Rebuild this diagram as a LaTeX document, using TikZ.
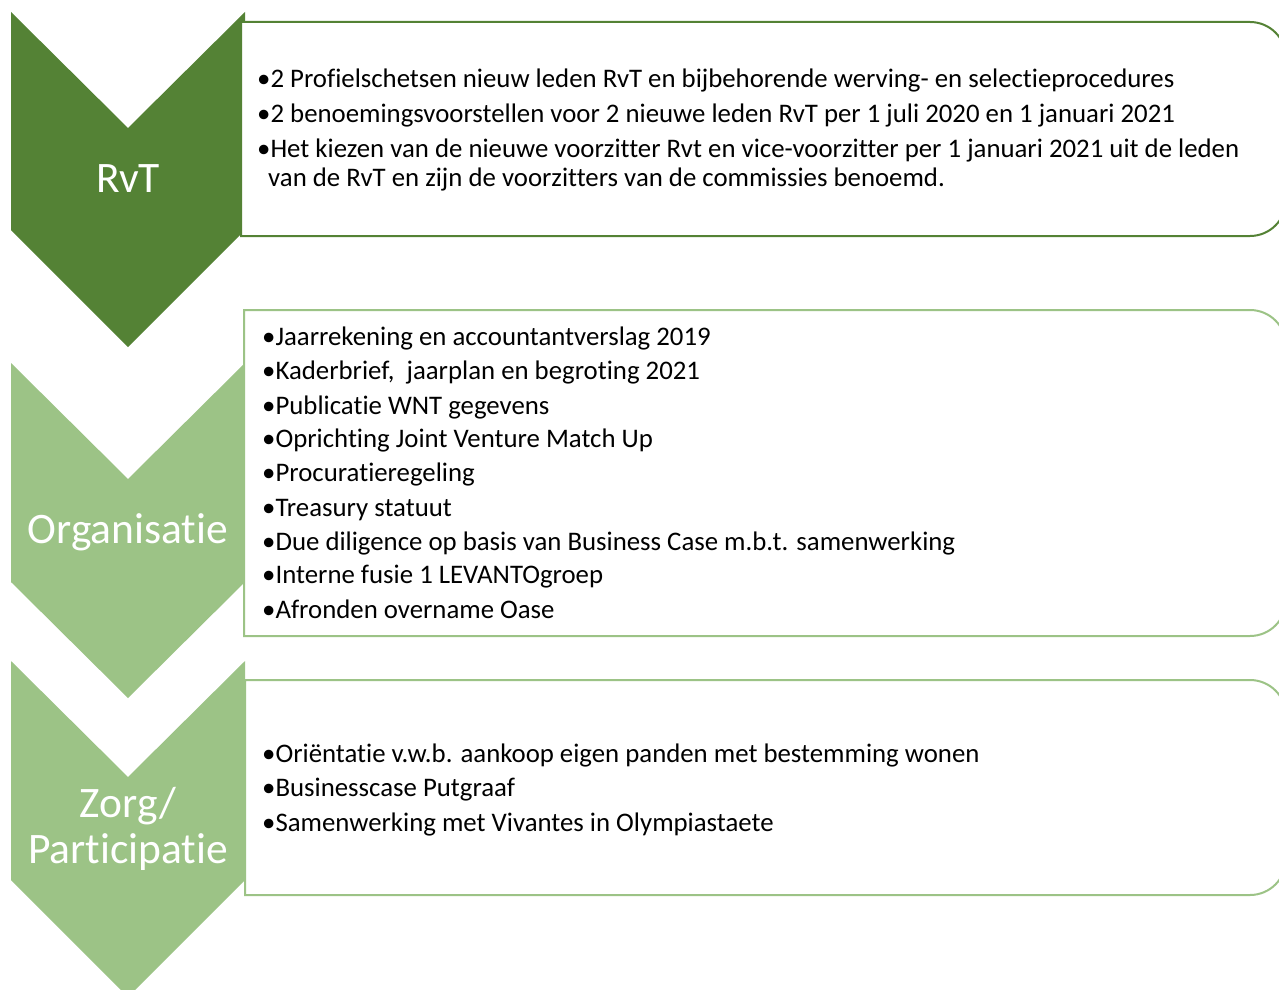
\documentclass[tikz,border=0pt]{standalone}
\usepackage{fontspec}
\setmainfont{Carlito}[Ligatures=NoCommon]
\definecolor{dkgreen}{HTML}{548235}
\definecolor{ltgreen}{HTML}{9CC386}
\begin{document}
\begin{tikzpicture}[x=1pt,y=-1pt,
  boxline/.style={line width=2pt,fill=white},
  lbl/.style={text=white,font=\fontsize{43.5}{50}\selectfont,align=center,inner sep=0pt},
  itm/.style={anchor=base west,inner sep=0pt,font=\fontsize{26.8}{32}\selectfont}]
\useasboundingbox (0,0) rectangle (1279,990);
\clip (0,0) rectangle (1279,990);
% chevrons
\fill[ltgreen] (11,661) -- (128,777) -- (245,661) -- (245,880) -- (128,997) -- (11,880) -- cycle;
\fill[ltgreen] (11,363) -- (128,479) -- (245,363) -- (245,582) -- (128,698) -- (11,582) -- cycle;
\fill[dkgreen] (11,12) -- (128,128) -- (245,12) -- (245,230) -- (128,347) -- (11,230) -- cycle;
% boxes
\draw[boxline,draw=dkgreen] (241,22) -- (1250,22) arc[start angle=-90,end angle=0,radius=36] -- (1286,200) arc[start angle=0,end angle=90,radius=36] -- (241,236) -- cycle;
\draw[boxline,draw=ltgreen] (244,310) -- (1250,310) arc[start angle=-90,end angle=0,radius=36] -- (1286,600) arc[start angle=0,end angle=90,radius=36] -- (244,636) -- cycle;
\draw[boxline,draw=ltgreen] (245,680) -- (1250,680) arc[start angle=-90,end angle=0,radius=36] -- (1286,859) arc[start angle=0,end angle=90,radius=36] -- (245,895) -- cycle;
% labels
\node[lbl,anchor=base] (l1) at (128,192) {RvT};
\node[lbl,anchor=base] (l2) at (128,543) {Organisatie};
\node[lbl,anchor=base] (l3) at (128,817) {Zorg/};
\node[lbl,anchor=base] (l3b) at (128,863) {Participatie};
% box 1
\node[itm] (a1) at (257,87) {•2 Profielschetsen nieuw leden RvT en bijbehorende werving- en selectieprocedures};
\node[itm] (a2) at (257,122) {•2 benoemingsvoorstellen voor 2 nieuwe leden RvT per 1 juli 2020 en 1 januari 2021};
\node[itm] (a3) at (257,157) {•Het kiezen van de nieuwe voorzitter Rvt en vice-voorzitter per 1 januari 2021 uit de leden};
\node[itm] (a4) at (268,186) {van de RvT en zijn de voorzitters van de commissies benoemd.};
% box 2
\node[itm] (b1) at (262,345) {•Jaarrekening en accountantverslag 2019};
\node[itm] (b2) at (262,379) {•Kaderbrief,\ \ jaarplan en begroting 2021};
\node[itm] (b3) at (262,414) {•Publicatie WNT gegevens};
\node[itm] (b4) at (262,447) {•Oprichting Joint Venture Match Up};
\node[itm] (b5) at (262,481) {•Procuratieregeling};
\node[itm] (b6) at (262,516) {•Treasury statuut};
\node[itm] (b7) at (262,550) {•Due diligence op basis van Business Case m.b.t. samenwerking};
\node[itm] (b8) at (262,583) {•Interne fusie 1 LEVANTOgroep};
\node[itm] (b9) at (262,618) {•Afronden overname Oase};
% box 3
\node[itm] (c1) at (262,762) {•Oriëntatie v.w.b. aankoop eigen panden met bestemming wonen};
\node[itm] (c2) at (262,796) {•Businesscase Putgraaf};
\node[itm] (c3) at (262,831) {•Samenwerking met Vivantes in Olympiastaete};
\end{tikzpicture}
\end{document}
